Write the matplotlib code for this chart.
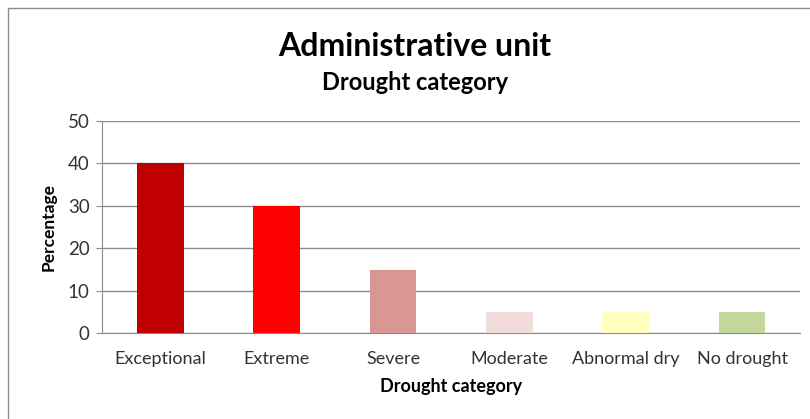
import matplotlib.pyplot as plt
from matplotlib.patches import Rectangle
import numpy as np

categories = ["Exceptional", "Extreme", "Severe", "Moderate", "Abnormal dry", "No drought"]
percentages = [40, 30, 15, 5, 5, 5]
bar_colors = ["#C00000", "#FF0000", "#D99694", "#F2DCDB", "#FFFFC0", "#C3D69B"]
y_ticks = [0, 10, 20, 30, 40, 50]


def main():
    plt.rcParams["font.family"] = ["Lato", "DejaVu Sans"]

    fig = plt.figure(figsize=(8.1, 4.19), dpi=100)
    ax = fig.add_axes([0.126, 0.205, 0.862, 0.506])

    # outer chart frame (only top and left edges visible)
    fig.patches.append(Rectangle((8 / 810, -0.1), 1.2, 1 - 8 / 419 + 0.1,
                                 transform=fig.transFigure, fill=False,
                                 edgecolor="#8c8c8c", linewidth=1.0))

    x = np.arange(len(categories))
    ax.bar(x, percentages, width=0.4, color=bar_colors, zorder=3)

    ax.set_xlim(-0.5, len(categories) - 0.5)
    ax.set_ylim(0, 50)
    ax.set_yticks(y_ticks)
    ax.set_xticks(x)
    ax.set_xticklabels(categories)
    ax.yaxis.grid(True, color="#8c8c8c", linewidth=1.0, zorder=0)
    ax.set_axisbelow(True)

    for side in ["top", "right"]:
        ax.spines[side].set_visible(False)
    ax.spines["left"].set_color("#8c8c8c")
    ax.spines["bottom"].set_color("#8c8c8c")
    ax.tick_params(axis="y", length=4, color="#8c8c8c", labelsize=13.5,
                   labelcolor="#333333", pad=5)
    ax.tick_params(axis="x", length=0, labelsize=13, labelcolor="#333333",
                   pad=13)

    ax.set_ylabel("Percentage", fontsize=12.5, fontweight="bold", labelpad=8)
    ax.set_xlabel("Drought category", fontsize=13, fontweight="bold",
                  labelpad=8)

    fig.text(0.512, 0.889, "Administrative unit", ha="center", va="center",
             fontsize=23, fontweight="bold")
    fig.text(0.512, 0.802, "Drought category", ha="center", va="center",
             fontsize=17, fontweight="bold")

    fig.savefig("out.png", dpi=100)


if __name__ == "__main__":
    main()
